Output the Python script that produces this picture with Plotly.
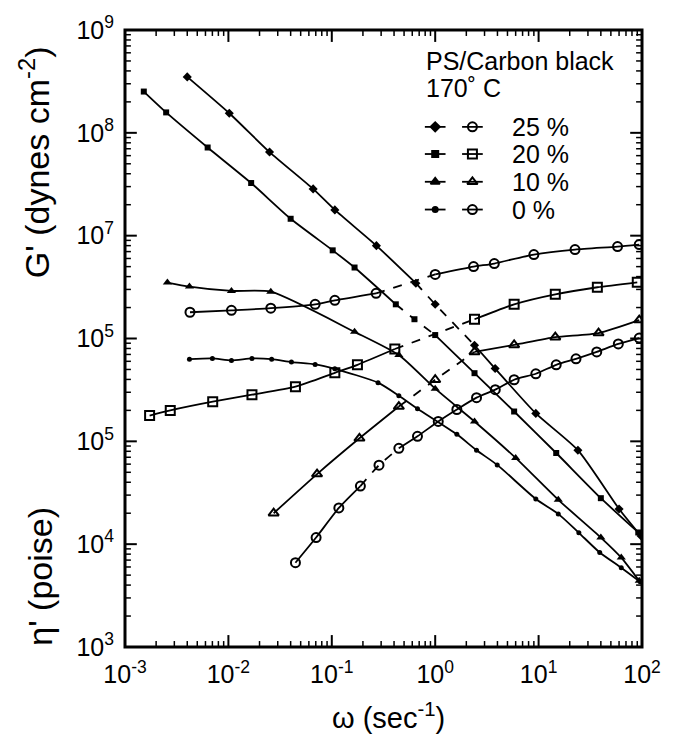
import math
import plotly.graph_objects as go

# ---------------- data ----------------
# eta' (filled markers), omega in sec^-1
eta25_w = [0.004, 0.0102, 0.025, 0.066, 0.107, 0.27, 0.65, 1.0, 2.4, 3.8, 9.4, 24, 60, 98]
eta25_v = [3.5e8, 1.55e8, 6.5e7, 2.85e7, 1.78e7, 8.0e6, 3.45e6, 2.15e6, 8.6e5, 5.1e5, 1.87e5, 8.2e4, 2.2e4, 1.2e4]

eta20_w = [0.00152, 0.0025, 0.0063, 0.0166, 0.04, 0.102, 0.166, 0.416, 0.63, 1.0, 2.4, 5.8, 14.8, 40, 92]
eta20_v = [2.52e8, 1.58e8, 7.2e7, 3.25e7, 1.46e7, 7.2e6, 4.9e6, 2.15e6, 1.54e6, 1.08e6, 4.6e5, 1.95e5, 7.7e4, 2.8e4, 1.3e4]

eta10_w = [0.00257, 0.0042, 0.0107, 0.0257, 0.166, 0.445, 1.0, 2.4, 6.0, 15.5, 40, 63, 94]
eta10_v = [3.5e6, 3.2e6, 2.9e6, 2.85e6, 1.16e6, 6.9e5, 3.25e5, 1.56e5, 6.9e4, 2.7e4, 1.16e4, 7.4e3, 4.4e3]

eta0_w = [0.0042, 0.007, 0.0107, 0.0169, 0.0262, 0.0407, 0.069, 0.107, 0.28, 0.445, 0.674, 1.62, 2.51, 3.98, 9.4, 15.5, 24.5, 39, 63, 96]
eta0_v = [6.3e5, 6.4e5, 6.1e5, 6.4e5, 6.3e5, 5.9e5, 5.6e5, 5.07e5, 3.72e5, 2.78e5, 2.08e5, 1.17e5, 8.2e4, 5.9e4, 2.75e4, 1.97e4, 1.29e4, 8.3e3, 5.9e3, 4.3e3]

# G' (open markers)
g25_w = [0.00425, 0.0107, 0.0257, 0.069, 0.107, 0.268, 1.0, 2.35, 3.73, 9.0, 22.5, 58, 94]
g25_v = [1.8e6, 1.88e6, 1.97e6, 2.15e6, 2.35e6, 2.75e6, 4.2e6, 5.0e6, 5.36e6, 6.55e6, 7.33e6, 7.83e6, 8.2e6]

g20_w = [0.00173, 0.00274, 0.00705, 0.0169, 0.0445, 0.107, 0.177, 0.407, 2.4, 5.8, 14.5, 37, 90]
g20_v = [1.78e5, 2.0e5, 2.43e5, 2.84e5, 3.4e5, 4.64e5, 5.55e5, 7.9e5, 1.54e6, 2.15e6, 2.69e6, 3.15e6, 3.52e6]

g10_w = [0.0274, 0.072, 0.185, 0.445, 1.0, 2.4, 5.8, 14.5, 38, 94]
g10_v = [2.0e4, 4.8e4, 1.07e5, 2.18e5, 3.97e5, 7.4e5, 8.65e5, 1.03e6, 1.13e6, 1.51e6]

g0_w = [0.0445, 0.0705, 0.117, 0.189, 0.286, 0.445, 0.674, 1.07, 1.62, 2.51, 3.81, 5.8, 9.4, 14.8, 23, 36.5, 59, 94]
g0_v = [6.6e3, 1.16e4, 2.25e4, 3.67e4, 5.86e4, 8.56e4, 1.12e5, 1.56e5, 2.04e5, 2.66e5, 3.18e5, 3.97e5, 4.54e5, 5.55e5, 6.34e5, 7.41e5, 8.85e5, 1.01e6]

legend_labels = ["25 %", "20 %", "10 %", "0 %"]
x_tickvals = [1e-3, 1e-2, 1e-1, 1e0, 1e1, 1e2]
x_ticktext = ["10<sup>-3</sup>", "10<sup>-2</sup>", "10<sup>-1</sup>", "10<sup>0</sup>", "10<sup>1</sup>", "10<sup>2</sup>"]
y_tickvals = [1e3, 1e4, 1e5, 1e6, 1e7, 1e8, 1e9]
y_ticktext = ["10<sup>3</sup>", "10<sup>4</sup>", "10<sup>5</sup>", "10<sup>5</sup>", "10<sup>7</sup>", "10<sup>8</sup>", "10<sup>9</sup>"]

# ---------------- styles ----------------
FONT = "Liberation Sans, Arial, sans-serif"
BLACK = "#000000"
X_LOG_RANGE = (-3, 2)
Y_LOG_RANGE = (3, 9)
ML, MR, MT, MB = 125, 23, 26, 90
W, H = 673, 737
PLOT_W, PLOT_H = W - ML - MR, H - MT - MB

filled_sym = {"25 %": "diamond", "20 %": "square", "10 %": "triangle-up", "0 %": "circle"}
open_sym = {"25 %": "circle-open", "20 %": "square-open", "10 %": "triangle-up-open", "0 %": "circle-open"}
filled_size = {"25 %": 7, "20 %": 6, "10 %": 8, "0 %": 5}
# index ranges of segments drawn broken (dashed) in the original
eta_dash = {"25 %": (6, 8), "20 %": (7, 9), "10 %": None, "0 %": None}
g_dash = {"25 %": (5, 6), "20 %": (7, 8), "10 %": (3, 5), "0 %": (3, 5)}

fig = go.Figure()


def add_series(w, v, marker, dash_rng):
    n = len(w)
    if dash_rng is None:
        segs = [(0, n - 1, "solid")]
    else:
        a, b = dash_rng
        segs = [(0, a, "solid"), (a, b, "dash"), (b, n - 1, "solid")]
    for i0, i1, d in segs:
        if i1 <= i0:
            continue
        fig.add_trace(go.Scatter(
            x=w[i0:i1 + 1], y=v[i0:i1 + 1], mode="lines", showlegend=False, hoverinfo="skip",
            line=dict(color=BLACK, width=1.8, shape="spline", smoothing=0.6, dash=d)))
    fig.add_trace(go.Scatter(x=w, y=v, mode="markers", showlegend=False, marker=marker))


eta_series = [("25 %", eta25_w, eta25_v), ("20 %", eta20_w, eta20_v),
              ("10 %", eta10_w, eta10_v), ("0 %", eta0_w, eta0_v)]
g_series = [("25 %", g25_w, g25_v), ("20 %", g20_w, g20_v),
            ("10 %", g10_w, g10_v), ("0 %", g0_w, g0_v)]

for lab, w, v in eta_series:
    add_series(w, v, dict(symbol=filled_sym[lab], size=filled_size[lab], color=BLACK), eta_dash[lab])

for lab, w, v in g_series:
    add_series(w, v, dict(symbol=open_sym[lab], size=9, color=BLACK, line=dict(width=2, color=BLACK)),
               g_dash[lab])

# ---------------- frame + log ticks on all four sides as paper shapes ----------------
shapes = [dict(type="rect", xref="paper", yref="paper", x0=0, x1=1, y0=0, y1=1,
               line=dict(color=BLACK, width=3), fillcolor="rgba(0,0,0,0)", layer="above")]


def add_tick(axis, frac, length_px, width):
    if axis == "x":
        tl = length_px / PLOT_H
        for a, b in [(0, tl), (1, 1 - tl)]:
            shapes.append(dict(type="line", xref="paper", yref="paper", x0=frac, x1=frac,
                               y0=a, y1=b, line=dict(color=BLACK, width=width), layer="above"))
    else:
        tl = length_px / PLOT_W
        for a, b in [(0, tl), (1, 1 - tl)]:
            shapes.append(dict(type="line", xref="paper", yref="paper", x0=a, x1=b,
                               y0=frac, y1=frac, line=dict(color=BLACK, width=width), layer="above"))


for axis, (lo, hi) in [("x", X_LOG_RANGE), ("y", Y_LOG_RANGE)]:
    for d in range(lo, hi + 1):
        add_tick(axis, (d - lo) / (hi - lo), 12, 2)
        if d < hi:
            for k in range(2, 10):
                add_tick(axis, (math.log10(k) + d - lo) / (hi - lo), 6, 1.5)

# ---------------- custom legend (paper-fraction overlay axis) ----------------
row_y = [0.843, 0.799, 0.754, 0.709]
for lab, yy in zip(legend_labels, row_y):
    for xc, sym, size in [(0.600, filled_sym[lab], filled_size[lab]), (0.672, open_sym[lab], 9)]:
        fig.add_trace(go.Scatter(
            x=[xc - 0.02, xc, xc + 0.02], y=[yy, yy, yy], xaxis="x2", yaxis="y2",
            mode="lines", line=dict(color=BLACK, width=1.8), showlegend=False, hoverinfo="skip"))
        fig.add_trace(go.Scatter(
            x=[xc], y=[yy], xaxis="x2", yaxis="y2", mode="markers", showlegend=False,
            marker=dict(symbol=sym, size=size, color=BLACK, line=dict(width=2, color=BLACK)),
            hoverinfo="skip"))
    fig.add_annotation(x=0.745, y=yy, xref="paper", yref="paper", text=lab,
                       showarrow=False, xanchor="left", yanchor="middle",
                       font=dict(family=FONT, size=25, color=BLACK))

fig.add_annotation(x=0.578, y=0.950, xref="paper", yref="paper", text="PS/Carbon black",
                   showarrow=False, xanchor="left", yanchor="middle",
                   font=dict(family=FONT, size=25, color=BLACK))
fig.add_annotation(x=0.578, y=0.906, xref="paper", yref="paper", text="170˚ C",
                   showarrow=False, xanchor="left", yanchor="middle",
                   font=dict(family=FONT, size=25, color=BLACK))

# axis titles
fig.add_annotation(x=-0.175, y=0.785, xref="paper", yref="paper",
                   text="G' (dynes cm<sup>-2</sup>)", textangle=-90, showarrow=False,
                   xanchor="center", yanchor="middle",
                   font=dict(family=FONT, size=34, color=BLACK))
fig.add_annotation(x=-0.165, y=0.115, xref="paper", yref="paper",
                   text="η' (poise)", textangle=-90, showarrow=False,
                   xanchor="center", yanchor="middle",
                   font=dict(family=FONT, size=34, color=BLACK))
fig.add_annotation(x=0.51, y=-0.112, xref="paper", yref="paper",
                   text="ω (sec<sup>-1</sup>)", showarrow=False,
                   xanchor="center", yanchor="middle",
                   font=dict(family=FONT, size=29, color=BLACK))

axis_common = dict(showline=False, ticks="", showgrid=False, zeroline=False,
                   tickfont=dict(family=FONT, size=25, color=BLACK))

fig.update_layout(
    width=W, height=H,
    margin=dict(l=ML, r=MR, t=MT, b=MB),
    paper_bgcolor="white", plot_bgcolor="white",
    xaxis=dict(type="log", range=list(X_LOG_RANGE), tickvals=x_tickvals, ticktext=x_ticktext,
               ticklabelstandoff=10, **axis_common),
    yaxis=dict(type="log", range=list(Y_LOG_RANGE), tickvals=y_tickvals, ticktext=y_ticktext,
               ticklabelstandoff=10, **axis_common),
    xaxis2=dict(overlaying="x", range=[0, 1], visible=False, fixedrange=True),
    yaxis2=dict(overlaying="y", range=[0, 1], visible=False, fixedrange=True),
    shapes=shapes,
    showlegend=False,
)

fig.write_html("out.html")
